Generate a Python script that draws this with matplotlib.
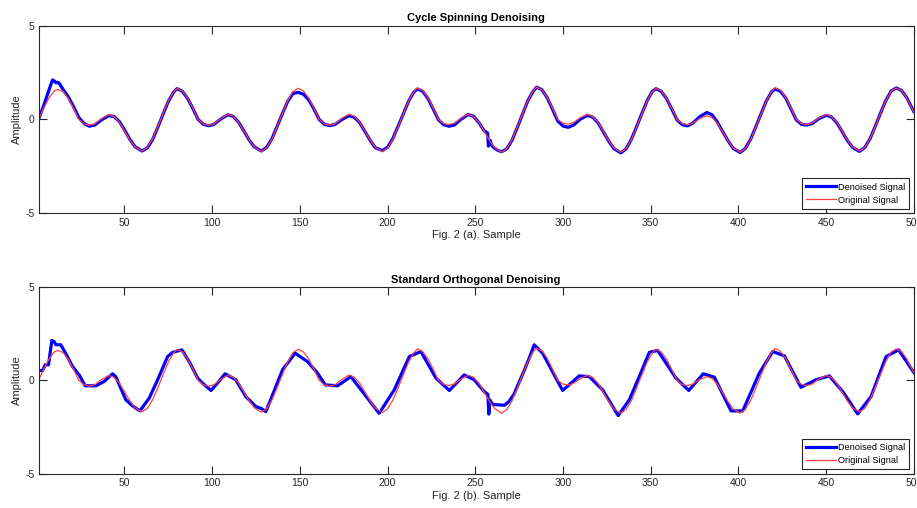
import matplotlib
matplotlib.use("Agg")
import matplotlib.pyplot as plt

plt.rcParams['font.family'] = ['Liberation Sans', 'DejaVu Sans']
plt.rcParams['axes.unicode_minus'] = False

# ---------------- data ----------------
orig_x = [1, 4, 7, 10,
          12, 15, 18, 21, 24, 27, 30, 33, 37, 41, 44, 47, 50, 53, 56, 60, 63, 66, 69, 72, 75, 78,
          80, 83, 86, 89, 92, 95, 98, 101, 105, 109, 112, 115, 118, 121, 124, 128, 131, 134, 137, 140, 143, 146,
          149, 152, 155, 158, 161, 164, 167, 170, 174, 178, 181, 184, 187, 190, 193, 197, 200, 203, 206, 209, 212, 215,
          217, 220, 223, 226, 229, 232, 235, 238, 242, 246, 249, 252, 255, 258, 261, 265, 268, 271, 274, 277, 280, 283,
          285, 288, 291, 294, 297, 300, 303, 306, 310, 314, 317, 320, 323, 326, 329, 333, 336, 339, 342, 345, 348, 351,
          353, 356, 359, 362, 365, 368, 371, 374, 378, 382, 385, 388, 391, 394, 397, 401, 404, 407, 410, 413, 416, 419,
          421, 424, 427, 430, 433, 436, 439, 442, 446, 450, 453, 456, 459, 462, 465, 469, 472, 475, 478, 481, 484, 487,
          490, 493, 496, 499, 500]
orig_y = [0.0, 0.6, 1.15, 1.52,
          1.60, 1.48, 1.12, 0.58, 0.0, -0.24, -0.31, -0.24, 0.05, 0.26, 0.16, -0.14, -0.60, -1.08, -1.46, -1.68, -1.50, -1.05, -0.40, 0.30, 0.98, 1.46,
          1.65, 1.52, 1.15, 0.60, 0.0, -0.24, -0.31, -0.24, 0.05, 0.27, 0.17, -0.14, -0.60, -1.08, -1.46, -1.70, -1.52, -1.06, -0.40, 0.30, 0.98, 1.48,
          1.66, 1.52, 1.15, 0.60, 0.0, -0.24, -0.31, -0.24, 0.06, 0.28, 0.17, -0.14, -0.60, -1.08, -1.48, -1.72, -1.52, -1.06, -0.40, 0.30, 0.98, 1.48,
          1.68, 1.54, 1.16, 0.60, 0.0, -0.22, -0.28, -0.20, 0.08, 0.27, 0.16, -0.14, -0.62, -1.10, -1.50, -1.75, -1.55, -1.08, -0.40, 0.32, 1.00, 1.52,
          1.72, 1.58, 1.18, 0.60, 0.0, -0.20, -0.25, -0.16, 0.10, 0.27, 0.15, -0.16, -0.64, -1.12, -1.52, -1.75, -1.55, -1.08, -0.40, 0.30, 0.98, 1.48,
          1.66, 1.52, 1.14, 0.58, 0.0, -0.22, -0.28, -0.20, 0.05, 0.20, 0.10, -0.20, -0.66, -1.12, -1.52, -1.75, -1.55, -1.07, -0.40, 0.30, 0.98, 1.50,
          1.70, 1.55, 1.16, 0.60, 0.0, -0.22, -0.28, -0.20, 0.08, 0.26, 0.16, -0.14, -0.60, -1.08, -1.46, -1.68, -1.50, -1.05, -0.38, 0.32, 1.00, 1.50,
          1.68, 1.54, 1.15, 0.60, 0.40]

cs_x = [1, 4, 6, 8, 9, 10, 11, 12, 13,
        15, 18, 21, 24, 27, 30, 33, 37, 41, 44, 47, 50, 53, 56, 60, 63, 66, 69, 72, 75, 78,
        80, 83, 86, 89, 92, 95, 98, 101, 105, 109, 112, 115, 118, 121, 124, 128, 131, 134, 137, 140, 143, 146,
        149, 152, 155, 158, 161, 164, 167, 170, 174, 178, 181, 184, 187, 190, 193, 197, 200, 203, 206, 209, 212, 215,
        217, 220, 223, 226, 229, 232, 235, 238, 242, 246, 249, 252, 255, 257.0, 257.5, 258.0, 258.6, 259.2, 260.5, 263, 265,
        268, 271, 274, 277, 280, 283,
        285, 288, 291, 294, 297, 300, 303, 306, 310, 314, 317, 320, 323, 326, 329, 333, 336, 339, 342, 345, 348, 351,
        353, 356, 359, 362, 365, 368, 371, 374, 378, 382, 385, 388, 391, 394, 397, 401, 404, 407, 410, 413, 416, 419,
        421, 424, 427, 430, 433, 436, 439, 442, 446, 450, 453, 456, 459, 462, 465, 469, 472, 475, 478, 481, 484, 487,
        490, 493, 496, 499, 500]
cs_y = [0.0, 0.75, 1.30, 1.85, 2.10, 2.05, 1.95, 1.98, 1.90,
        1.60, 1.20, 0.68, 0.10, -0.22, -0.36, -0.30, -0.02, 0.20, 0.16, -0.10, -0.55, -1.05, -1.45, -1.68, -1.52, -1.08, -0.42, 0.28, 0.96, 1.45,
        1.64, 1.50, 1.12, 0.58, 0.0, -0.26, -0.34, -0.26, 0.03, 0.25, 0.16, -0.14, -0.60, -1.08, -1.46, -1.68, -1.50, -1.04, -0.38, 0.30, 0.95, 1.38,
        1.44, 1.35, 1.05, 0.56, 0.0, -0.26, -0.33, -0.27, 0.0, 0.20, 0.12, -0.16, -0.62, -1.10, -1.50, -1.66, -1.48, -1.02, -0.36, 0.30, 0.98, 1.46,
        1.62, 1.50, 1.12, 0.56, -0.02, -0.28, -0.36, -0.30, 0.02, 0.26, 0.17, -0.16, -0.60, -0.72, -1.42, -1.15, -1.12, -1.35, -1.50, -1.65, -1.72,
        -1.56, -1.10, -0.42, 0.30, 1.00, 1.50,
        1.72, 1.58, 1.16, 0.55, -0.08, -0.35, -0.42, -0.30, 0.02, 0.22, 0.12, -0.18, -0.66, -1.14, -1.55, -1.78, -1.56, -1.06, -0.38, 0.32, 1.00, 1.50,
        1.64, 1.50, 1.12, 0.56, -0.02, -0.28, -0.34, -0.20, 0.15, 0.37, 0.25, -0.14, -0.64, -1.12, -1.54, -1.76, -1.54, -1.05, -0.38, 0.32, 1.00, 1.48,
        1.62, 1.50, 1.14, 0.56, -0.02, -0.26, -0.30, -0.22, 0.05, 0.22, 0.14, -0.16, -0.62, -1.10, -1.48, -1.70, -1.50, -1.04, -0.37, 0.33, 1.00, 1.50,
        1.68, 1.54, 1.16, 0.60, 0.42]

so_x = [1, 3.3, 4.8, 6.7, 8.6, 9.9, 10.9, 13.7, 17, 20.4, 24.2, 27.6, 33.7, 38.4, 43.2, 45, 50.8, 54.6, 58.8,
        64.1, 68.9, 74.6, 77.4, 82.7, 86.9, 91.7, 94.5, 99.3, 103, 107.4, 113.5, 119.2, 124.9, 128, 130.6, 134.8,
        140.1, 147.3, 154.4, 160.1, 164.5, 171.5, 179.1, 195.2, 203.8, 212.4, 219, 227.6, 235.2, 243.7, 249.4,
        255.1, 257.2, 257.7, 258.4, 259.2, 260.5, 262, 266.6, 269, 272, 275, 278, 281, 283.6, 288.4, 299.8, 309.3,
        315, 322.6, 331.5,
        337.8, 343.5, 349.2, 354, 364.4, 371.7, 380, 386.3, 395.8, 402.5, 411.9, 419.6, 426.2, 435.7, 444.2,
        451.8, 459.5, 468, 475.6, 484.2, 491.4, 500]
so_y = [0.52, 0.52, 0.83, 0.83, 2.13, 2.07, 1.90, 1.90, 1.35, 0.74, 0.29, -0.29, -0.29, -0.06, 0.35, 0.20, -1.04, -1.36, -1.63,
        -0.95, 0.03, 1.27, 1.49, 1.63, 1.00, 0.12, -0.15, -0.54, -0.15, 0.35, 0.03, -0.87, -1.40, -1.50, -1.67, -0.69,
        0.56, 1.45, 1.00, 0.38, -0.24, -0.29, 0.20, -1.76, -0.51, 1.27, 1.54, 0.12, -0.54, 0.29, 0.03,
        -0.60, -0.75, -1.80, -1.05, -1.20, -1.30, -1.30, -1.33, -1.15, -0.75, -0.10, 0.55, 1.25, 1.90, 1.45, -0.54, 0.24,
        0.20, -0.51, -1.88,
        -1.04, 0.20, 1.49, 1.60, 0.12, -0.54, 0.35, 0.17, -1.63, -1.63, 0.38, 1.54, 1.31, -0.37, 0.03,
        0.24, -0.60, -1.79, -0.87, 1.27, 1.63, 0.42]

x_ticks = [50, 100, 150, 200, 250, 300, 350, 400, 450, 500]
y_ticks = [-5, 0, 5]
titles = ["Cycle Spinning Denoising", "Standard Orthogonal Denoising"]
xlabels = ["Fig. 2 (a). Sample", "Fig. 2 (b). Sample"]
legend_labels = ["Denoised Signal", "Original Signal"]

# ---------------- figure ----------------
fig = plt.figure(figsize=(9.17, 5.08), dpi=100)
ax1 = fig.add_axes([0.042, 0.580, 0.9545, 0.3697])
ax2 = fig.add_axes([0.042, 0.0669, 0.9545, 0.3687])

blue = (0.0, 0.0, 1.0)
red = (1.0, 0.25, 0.25)
frame = '#262626'

for ax, dx, dy, title, xl in [(ax1, cs_x, cs_y, titles[0], xlabels[0]),
                               (ax2, so_x, so_y, titles[1], xlabels[1])]:
    ax.plot(dx, dy, color=blue, lw=2.3, label=legend_labels[0], solid_joinstyle='round')
    ax.plot(orig_x, orig_y, color=red, lw=0.9, label=legend_labels[1])
    ax.set_xlim(1, 500)
    ax.set_ylim(-5, 5)
    ax.set_xticks(x_ticks)
    ax.set_yticks(y_ticks)
    ax.tick_params(direction='in', length=6, width=0.8, top=True, right=True,
                   labelsize=7.5, colors=frame, pad=3)
    for s in ax.spines.values():
        s.set_color(frame)
        s.set_linewidth(0.8)
    ax.set_title(title, fontsize=8, fontweight='bold', pad=3)
    ax.set_xlabel(xl, fontsize=8, color=frame, labelpad=2)
    ax.set_ylabel("Amplitude", fontsize=8, color=frame, labelpad=2)
    leg = ax.legend(loc='lower right', fontsize=6.6, fancybox=False, framealpha=1,
                    edgecolor=frame, handlelength=3.3, borderaxespad=0.5,
                    labelspacing=0.45, borderpad=0.45, handletextpad=0.15)
    leg.get_frame().set_linewidth(0.8)

fig.savefig("out.png", dpi=100)
